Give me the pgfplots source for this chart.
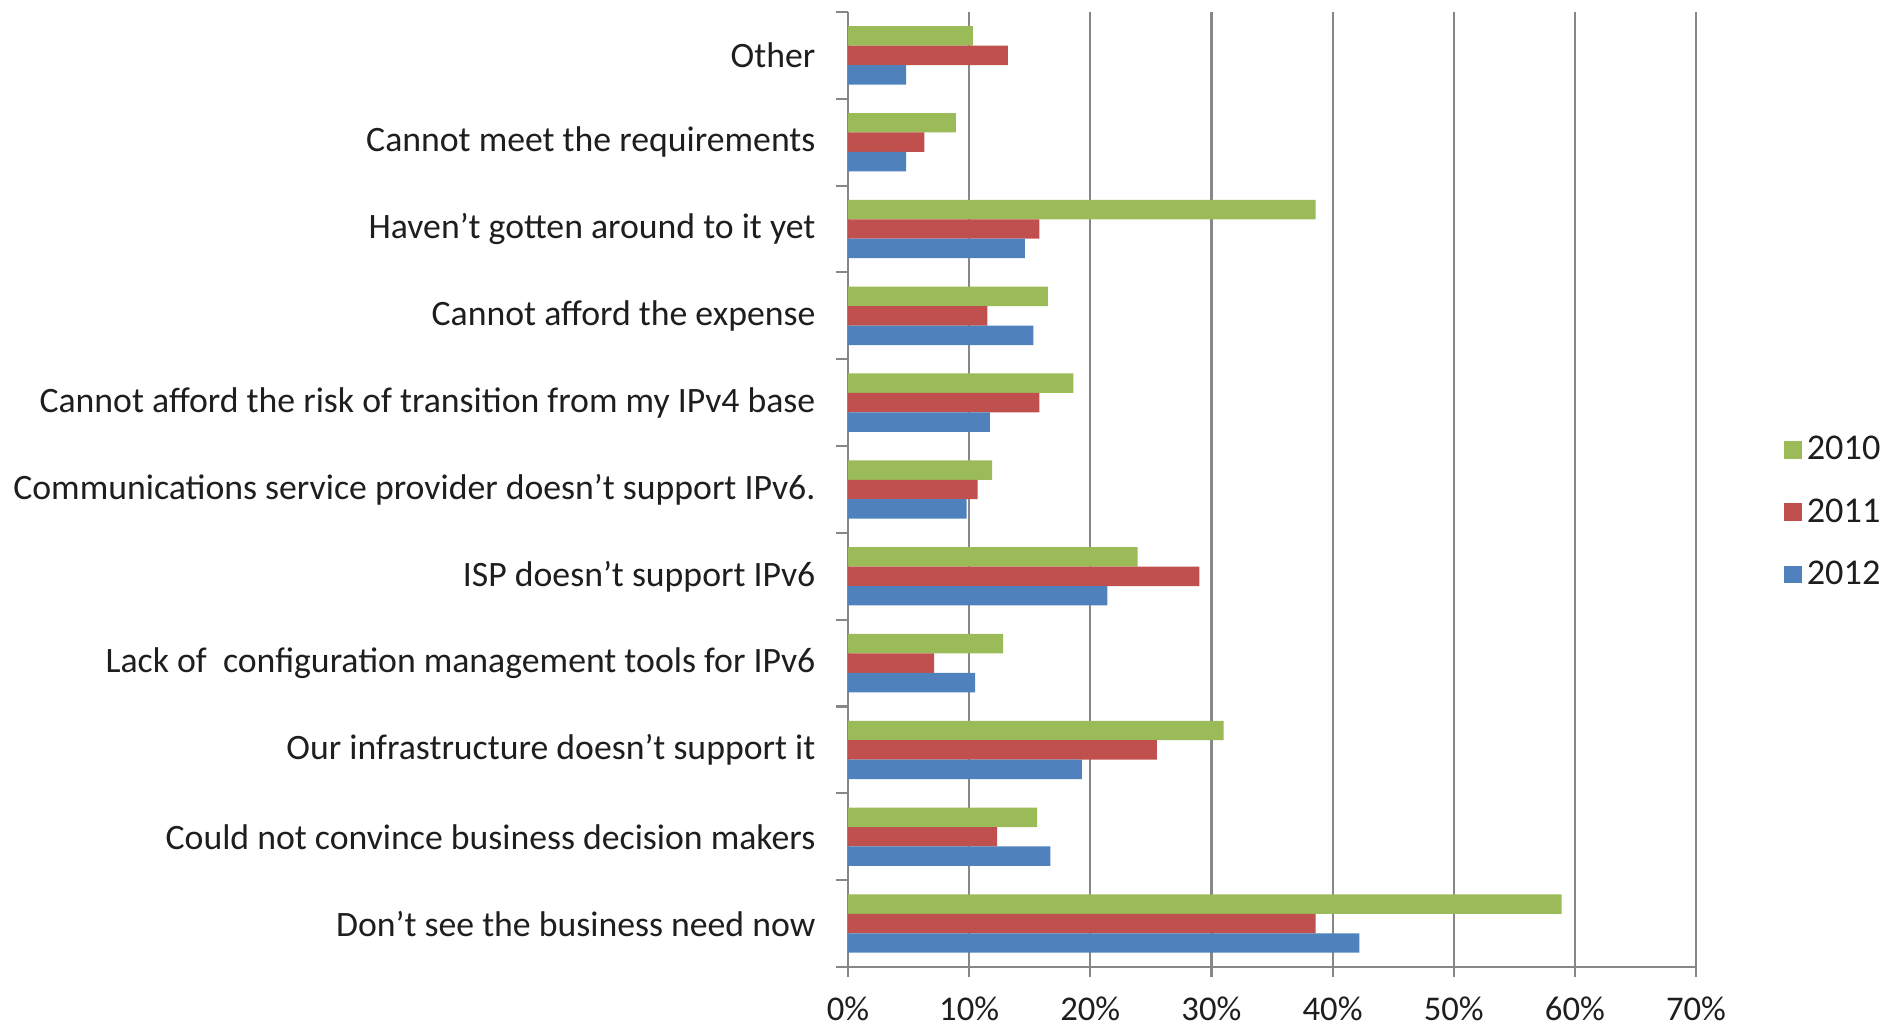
\documentclass[border=0pt]{standalone}
\usepackage{pgfplots}
\pgfplotsset{compat=1.18}
\usepackage{fontspec}
\setmainfont{Carlito}
\definecolor{g10}{HTML}{9BBB59}
\definecolor{r11}{HTML}{C0504D}
\definecolor{b12}{HTML}{4F81BD}
\definecolor{gridc}{HTML}{878787}
\definecolor{txt}{HTML}{1E1E1E}
\begin{document}
\begin{tikzpicture}[font=\fontsize{13.4pt}{15pt}\selectfont]
\path[use as bounding box] (-318pt,-22.5pt) rectangle (392.6pt,362.6pt);
\begin{axis}[
  at={(0,0)}, anchor=south west,
  scale only axis, width=318pt, height=358.1pt,
  xbar, bar width=7.29pt,
  xmin=0, xmax=70, ymin=-0.5, ymax=10.5,
  xtick={0,10,...,70},
  xticklabel={\pgfmathprintnumber{\tick}\%},
  /pgf/number format/assume math mode=true,
  ytick={0,...,10},
  yticklabels={Don’t see the business need now,
    Could not convince business decision makers,
    Our infrastructure doesn’t support it,
    Lack of~ configuration management tools for IPv6,
    ISP doesn’t support IPv6,
    Communications service provider doesn’t support IPv6.,
    Cannot afford the risk of transition from my IPv4 base,
    Cannot afford the expense,
    Haven’t gotten around to it yet,
    Cannot meet the requirements,
    Other},
  minor ytick={-0.5,0.5,...,10.5},
  major y tick style={draw=none},
  xmajorgrids, grid style={gridc, line width=0.8pt},
  axis x line*=bottom, axis y line*=left,
  axis line style={gridc, line width=0.8pt, -},
  tick style={gridc, line width=0.8pt},
  major tick length=3.7pt, minor tick length=4.5pt, tick align=outside,
  yticklabel style={text=txt, xshift=-5pt},
  xticklabel style={text=txt, yshift=-3.8pt, font=\fontsize{13pt}{15pt}\selectfont},
  legend style={draw=none, fill=none, at={(rel axis cs:1.103,0.476)}, anchor=west,
    row sep=9pt, text=txt, inner sep=0pt, font=\fontsize{13.6pt}{15pt}\selectfont},
  legend cell align=left,
  legend image code/.code={\fill[#1] (0pt,-3.2pt) rectangle (6.6pt,3.4pt);},
]
\addplot[fill=g10, draw=none, bar shift=7.29pt] coordinates {
 (58.9,0) (15.6,1) (31.0,2) (12.8,3) (23.9,4) (11.9,5) (18.6,6) (16.5,7) (38.6,8) (8.9,9) (10.3,10)};
\addplot[fill=r11, draw=none, bar shift=0pt] coordinates {
 (38.6,0) (12.3,1) (25.5,2) (7.1,3) (29.0,4) (10.7,5) (15.8,6) (11.5,7) (15.8,8) (6.3,9) (13.2,10)};
\addplot[fill=b12, draw=none, bar shift=-7.29pt] coordinates {
 (42.2,0) (16.7,1) (19.3,2) (10.5,3) (21.4,4) (9.8,5) (11.7,6) (15.3,7) (14.6,8) (4.8,9) (4.8,10)};
\legend{2010,2011,2012}
\end{axis}
\end{tikzpicture}
\end{document}
